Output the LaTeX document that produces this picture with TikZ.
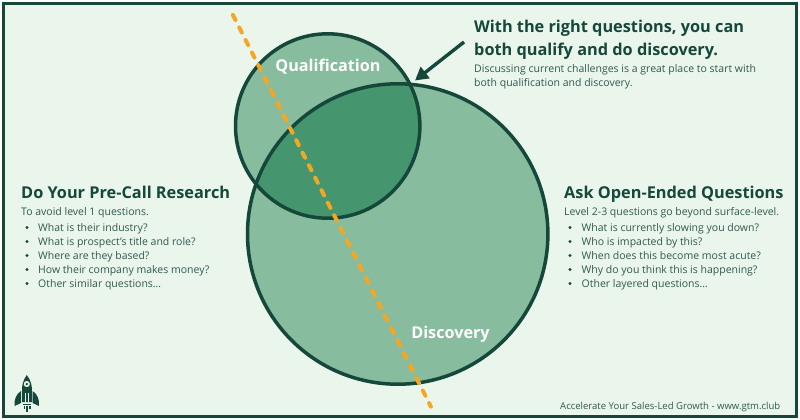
\documentclass[tikz,border=0pt]{standalone}
\usepackage{fontspec}
\setmainfont{Open Sans}
\usetikzlibrary{arrows.meta}
\definecolor{bgc}{HTML}{EAF5EC}
\definecolor{dk}{HTML}{15483A}
\definecolor{midg}{HTML}{88BC9E}
\definecolor{ovl}{HTML}{45966F}
\definecolor{org}{HTML}{F5A623}
\definecolor{txt}{HTML}{2F5A4E}
\tikzset{
  ring/.style={draw=dk,line width=3.5pt},
  lab/.style={inner sep=0pt,anchor=base west,text=txt,font=\fontsize{10.5}{12}\selectfont},
  head/.style={inner sep=0pt,anchor=base west,text=dk,font=\fontsize{16.3}{20}\bfseries\selectfont},
  circlab/.style={inner sep=0pt,anchor=base,text=white,font=\fontsize{16.2}{18}\bfseries\selectfont},
  dotm/.style={circle,fill=dk,inner sep=0pt,minimum size=3.2pt}
}
\begin{document}
\begin{tikzpicture}[x=1pt,y=-1pt]
\useasboundingbox (0,0) rectangle (800,420);
\fill[white] (0,0) rectangle (800,420);
\draw[fill=bgc,draw=dk,line width=3pt] (3,4) rectangle (796.5,416.5);
% Venn
\fill[midg] (327.7,126) circle[radius=92.2];
\fill[midg] (397.7,234) circle[radius=150.2];
\begin{scope}
\clip (327.7,126) circle[radius=92.2];
\fill[ovl] (397.7,234) circle[radius=150.2];
\end{scope}
\draw[ring] (327.7,126) circle[radius=92.2];
\draw[ring] (397.7,234) circle[radius=150.2];
% dashed line
\coordinate (ds) at (232.9,14.9);
\coordinate (de) at (430.9,406.6);
\draw[org,line width=4pt,line cap=round,dash pattern=on 5.8pt off 8.23pt] (ds) -- (de);
% circle labels
\node[circlab] (q) at (328,71) {Qualification};
\node[circlab] (d) at (450.5,338) {Discovery};
% arrow
\coordinate (as) at (464,42);
\coordinate (ae) at (415,80.5);
\draw[dk,line width=3.4pt,-{Triangle[length=13pt,width=14pt]}] (as) -- (ae);
% top text
\node[head] (t1) at (474,32.7) {With the right questions, you can};
\node[head] (t2) at (474,56) {both qualify and do discovery.};
\node[lab] (t3) at (474,72) {Discussing current challenges is a great place to start with};
\node[lab] (t4) at (474,86.5) {both qualification and discovery.};
% left
\node[head] (l0) at (21,198) {Do Your Pre-Call Research};
\node[lab] (l1) at (21,215.5) {To avoid level 1 questions.};
\node[lab] (l2) at (38,231) {What is their industry?};
\node[lab] (l3) at (38,245) {What is prospect’s title and role?};
\node[lab] (l4) at (38,259) {Where are they based?};
\node[lab] (l5) at (38,273) {How their company makes money?};
\node[lab] (l6) at (38,287) {Other similar questions…};
\foreach \y in {227.5,241.5,255.5,269.5,283.5} \node[dotm] at (27,\y) {};
% right
\node[head] (r0) at (564,198) {Ask Open-Ended Questions};
\node[lab] (r1) at (564,215.5) {Level 2-3 questions go beyond surface-level.};
\node[lab] (r2) at (581.5,231) {What is currently slowing you down?};
\node[lab] (r3) at (581.5,245) {Who is impacted by this?};
\node[lab] (r4) at (581.5,259) {When does this become most acute?};
\node[lab] (r5) at (581.5,273) {Why do you think this is happening?};
\node[lab] (r6) at (581.5,287) {Other layered questions…};
\foreach \y in {227.5,241.5,255.5,269.5,283.5} \node[dotm] at (570,\y) {};
% footer
\node[lab,font=\fontsize{9.55}{11}\selectfont] (f) at (560,409) {Accelerate Your Sales-Led Growth - www.gtm.club};
% rocket
\fill[dk,even odd rule] (26.8,375) .. controls (23,380) and (21.5,386) .. (22,393) -- (22,402) -- (32,402) -- (32,393) .. controls (32.5,386) and (30.6,380) .. (26.8,375) -- cycle
  (26.8,384) circle[radius=3.2];
\fill[dk] (26.8,384) circle[radius=1.3];
\fill[bgc] (25,393) rectangle (26,402);
\fill[bgc] (27.6,393) rectangle (28.6,402);
\fill[dk] (21,391) .. controls (16,394) and (14,400) .. (14.5,406) -- (21,403) -- cycle;
\fill[dk] (32.6,391) .. controls (37.6,394) and (39.6,400) .. (39,406) -- (32.6,403) -- cycle;
\fill[dk] (23,403.5) rectangle (31,405);
\fill[dk] (26,405.5) rectangle (28,412);
\fill[dk] (23.5,405.5) rectangle (25,409);
\fill[dk] (29,405.5) rectangle (30.5,409);
\end{tikzpicture}
\end{document}
